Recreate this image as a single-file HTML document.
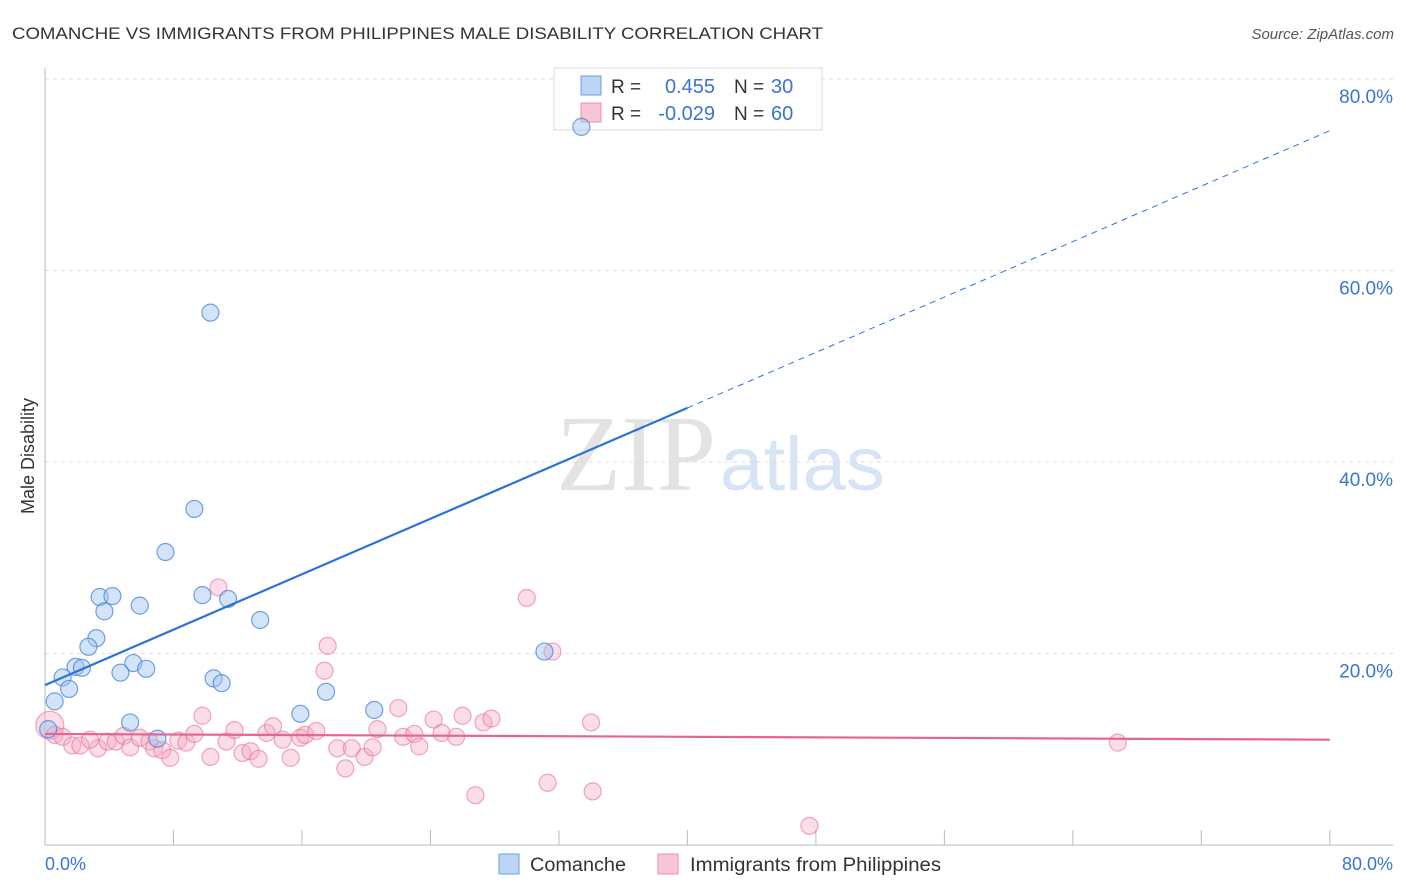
<!DOCTYPE html>
<html><head><meta charset="utf-8"><style>
body{margin:0;background:#fff;font-family:"Liberation Sans",sans-serif;}
svg{display:block}
</style></head><body>
<svg id="chart" width="1406" height="892">
<text x="12" y="39" font-size="17" fill="#333" textLength="811" lengthAdjust="spacingAndGlyphs">COMANCHE VS IMMIGRANTS FROM PHILIPPINES MALE DISABILITY CORRELATION CHART</text>
<text x="1394" y="39" font-size="15" fill="#555" font-style="italic" text-anchor="end">Source: ZipAtlas.com</text>
<text x="716" y="490" font-size="108" fill="#e3e3e3" text-anchor="end" font-family="Liberation Serif" textLength="160" lengthAdjust="spacingAndGlyphs">ZIP</text>
<text x="720" y="490" font-size="76" fill="#d7e4f5" textLength="165" lengthAdjust="spacingAndGlyphs">atlas</text>
<g id="grid"></g>
<g id="axes"></g>
<g>
<rect x="554" y="68" width="268" height="62" fill="#fff" stroke="#ddd"/>
<rect x="581" y="76" width="20" height="19" fill="#bcd5f5" stroke="#6d9ee0"/>
<rect x="581" y="103" width="20" height="19" fill="#f9c6d5" stroke="#ec8fae"/>
<text x="611" y="93" font-size="19" fill="#333">R =</text>
<text x="715" y="93" font-size="20" fill="#3a75d3" text-anchor="end">0.455</text>
<text x="734" y="93" font-size="19" fill="#333">N =</text>
<text x="771" y="93" font-size="20" fill="#3a75d3">30</text>
<text x="611" y="120" font-size="19" fill="#333">R =</text>
<text x="715" y="120" font-size="20" fill="#3a75d3" text-anchor="end">-0.029</text>
<text x="734" y="120" font-size="19" fill="#333">N =</text>
<text x="771" y="120" font-size="20" fill="#3a75d3">60</text>
</g>
<g id="marks"></g>
<text transform="translate(34,456) rotate(-90)" font-size="18" fill="#333" text-anchor="middle">Male Disability</text>
<text x="45" y="870" font-size="18" fill="#3a75d3">0.0%</text>
<text x="1393" y="870" font-size="18" fill="#3a75d3" text-anchor="end">80.0%</text>
<g>
<rect x="499" y="854" width="20" height="20" fill="#bcd5f5" stroke="#6d9ee0"/>
<text x="530" y="871" font-size="19" fill="#333" textLength="96" lengthAdjust="spacingAndGlyphs">Comanche</text>
<rect x="658" y="854" width="20" height="20" fill="#f9c6d5" stroke="#ec8fae"/>
<text x="690" y="871" font-size="19" fill="#333" textLength="251" lengthAdjust="spacingAndGlyphs">Immigrants from Philippines</text>
</g>
</svg>
<script>
const yTicks=[20,40,60,80];
const yTickLabels=["20.0%","40.0%","60.0%","80.0%"];
const blueX=[33.4,10.3,9.3,7.5,3.4,4.2,5.9,3.7,9.8,11.4,13.4,3.2,2.7,1.9,2.3,1.1,5.5,6.3,4.7,1.5,10.5,11.0,0.6,5.3,15.9,17.5,20.5,31.1,0.2,7.0];
const blueY=[75.0,55.6,35.1,30.6,25.9,26.0,25.0,24.4,26.1,25.7,23.5,21.6,20.7,18.6,18.5,17.5,19.0,18.4,18.0,16.3,17.4,16.9,15.0,12.8,13.7,16.0,14.1,20.2,12.1,11.1];
const pinkX=[0.3,0.6,1.1,1.7,2.2,3.3,2.8,3.9,4.4,4.9,5.3,5.9,6.5,6.8,7.3,7.8,8.3,8.8,9.3,9.8,10.3,10.8,11.3,11.8,12.3,12.8,13.3,13.8,14.2,14.8,15.3,15.9,16.2,16.9,17.6,17.4,18.2,18.7,19.1,19.9,20.4,20.7,22.0,22.3,23.0,23.3,24.2,24.7,25.6,26.0,27.3,27.8,26.8,30.0,31.3,31.6,34.0,34.1,47.6,66.8];
const pinkY=[12.5,11.5,11.3,10.4,10.4,10.1,11.0,10.8,10.8,11.4,10.2,11.2,10.8,10.1,9.9,9.1,10.9,10.7,11.6,13.5,9.2,26.9,10.8,12.0,9.6,9.8,9.0,11.7,12.4,11.0,9.1,11.2,11.5,11.9,20.8,18.2,10.1,8.0,10.1,9.2,10.2,12.1,14.3,11.3,11.6,10.3,13.1,11.7,11.3,13.5,12.8,13.2,5.2,25.8,6.5,20.2,12.8,5.6,2.0,10.7];
const blueTrend=[16.7,74.6];
const pinkTrend=[11.6,11.0];
const xs=v=>45+v*16.06, ys=v=>845-v*9.575;
const NS="http://www.w3.org/2000/svg";
function mk(tag,attrs,parent){const e=document.createElementNS(NS,tag);for(const k in attrs)e.setAttribute(k,attrs[k]);parent.appendChild(e);return e;}
const grid=document.getElementById('grid'),axes=document.getElementById('axes'),marks=document.getElementById('marks');
yTicks.forEach((t,i)=>{
 const l=mk('line',{x1:45,x2:1393,y1:ys(t),y2:ys(t),stroke:'#ddd','stroke-dasharray':'4,4'},grid);
 
 
 const tx=mk('text',{x:1393,y:ys(t)+24,'font-size':19,fill:'#3a75d3','text-anchor':'end'},grid);
 tx.textContent=yTickLabels[i];
 
 
});
let a=mk('line',{x1:45,x2:45,y1:68,y2:845,stroke:'#bbb'},axes);


a=mk('line',{x1:45,x2:1393,y1:845,y2:845,stroke:'#bbb'},axes);


for(let i=0;i<=10;i++){const t=mk('line',{x1:xs(i*8),x2:xs(i*8),y1:830,y2:845,stroke:'#bbb'},axes);
 
 }
pinkX.forEach((x,i)=>{const c=mk('circle',{cx:xs(x),cy:ys(pinkY[i]),r:i===0?14:8.5,fill:'rgba(245,170,195,0.4)',stroke:'rgba(232,110,150,0.6)','stroke-width':1.2},marks);
 
 });
blueX.forEach((x,i)=>{const c=mk('circle',{cx:xs(x),cy:ys(blueY[i]),r:8.5,fill:'rgba(160,195,240,0.45)',stroke:'rgba(70,130,215,0.75)','stroke-width':1.2},marks);
 
 });
const bAt=v=>blueTrend[0]+(blueTrend[1]-blueTrend[0])*v/80;
let ln=mk('line',{x1:xs(0),y1:ys(bAt(0)),x2:xs(40),y2:ys(bAt(40)),stroke:'#2a72d8','stroke-width':2.2},marks);


ln=mk('line',{x1:xs(40),y1:ys(bAt(40)),x2:xs(80),y2:ys(bAt(80)),stroke:'#2a72d8','stroke-width':1,'stroke-dasharray':'6,5'},marks);


ln=mk('line',{x1:xs(0),y1:ys(pinkTrend[0]),x2:xs(80),y2:ys(pinkTrend[1]),stroke:'#e8648f','stroke-width':2.2},marks);


</script>
</body></html>
